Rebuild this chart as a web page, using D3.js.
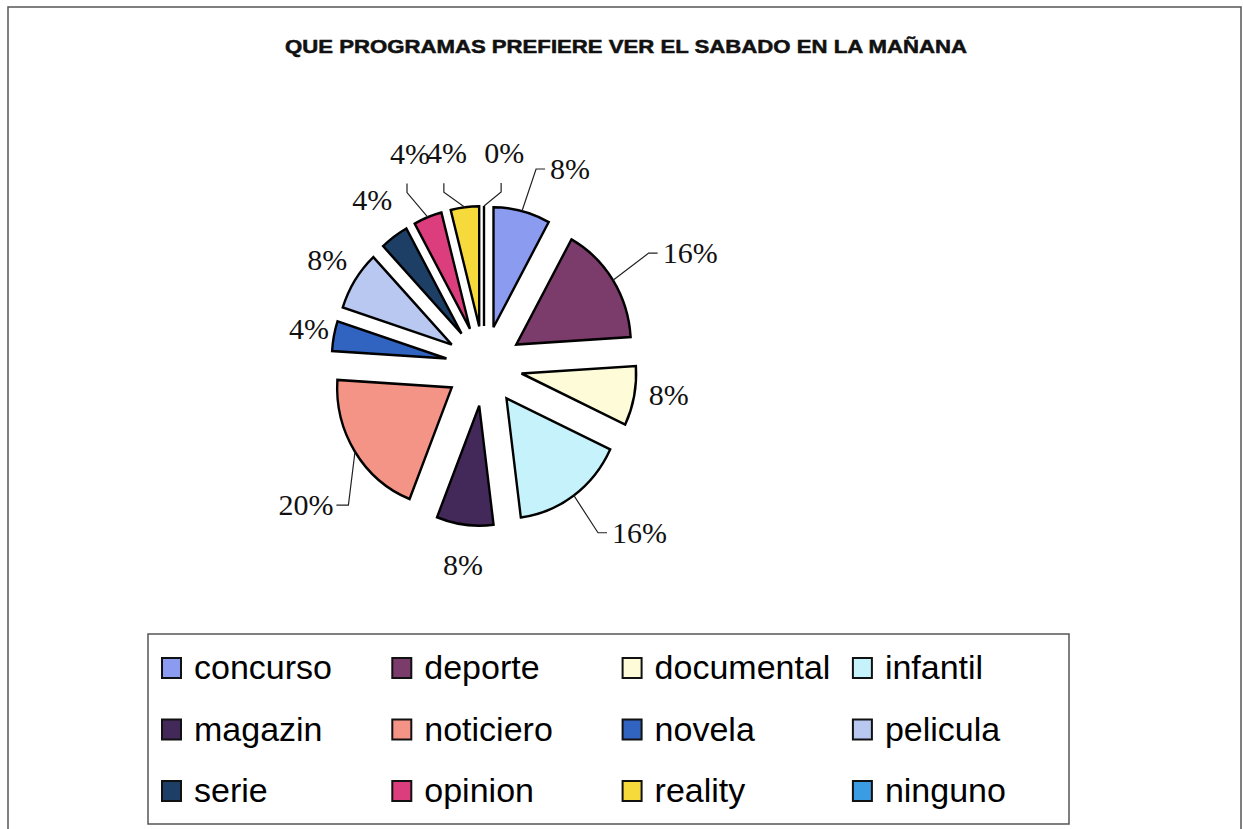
<!DOCTYPE html>
<html>
<head>
<meta charset="utf-8">
<script src="https://cdn.jsdelivr.net/npm/d3@7"></script>
<style>
  html, body { margin: 0; padding: 0; background: #fff; }
  svg { display: block; }
</style>
</head>
<body>
<svg id="chart" width="1243" height="829"></svg>
<script>
// ---- data ----
const title = "QUE PROGRAMAS PREFIERE VER EL SABADO EN LA MAÑANA";
const categories = ["concurso", "deporte", "documental", "infantil", "magazin", "noticiero",
                    "novela", "pelicula", "serie", "opinion", "reality", "ninguno"];
const values = [8, 16, 8, 16, 8, 20, 4, 8, 4, 4, 4, 0];
const colors = ["#8b9cf0", "#7b3b6b", "#fdfbd8", "#c6f2fb", "#43295a", "#f49486",
                "#3163c0", "#b8c8f0", "#1d3f66", "#dc3d7c", "#f6d93a", "#3b9be3"];

// ---- label layout (Excel-moved labels) ----
const labelShift = [9.2, 3.7, -1.8, -7, -1.2, -5.6, 1.2, 1.6, 2, 2.4, -2.7, 5.4]; // degrees from slice middle
const labelDist  = [215, 235, 187, 228, 200, 226, 179, 189, 200, 225, 216, 214];
const leaderSide = ["right", "right", null, "right", null, "left", null, null, null, "top", "top", "top"];

const W = 1243, H = 829;
const svg = d3.select("#chart");

// outer frame
svg.append("rect").attr("x", 8).attr("y", 7).attr("width", 1233).attr("height", 860)
  .attr("fill", "none").attr("stroke", "#555").attr("stroke-width", 1.5);

// title
svg.append("text")
  .attr("x", 285).attr("y", 53)
  .attr("textLength", 682).attr("lengthAdjust", "spacingAndGlyphs")
  .attr("font-family", "Arial, 'Liberation Sans', sans-serif")
  .attr("font-weight", "bold").attr("font-size", 18)
  .attr("fill", "#111").attr("stroke", "#111").attr("stroke-width", 0.5)
  .text(title);

// pie
const cx = 484, cy = 366, R = 120, explode = 40, sx = 0.955;
const pie = d3.pie().sort(null).value(d => d.v);
const arcs = pie(categories.map((c, i) => ({ c, v: values[i], i })));
const arc = d3.arc().innerRadius(0).outerRadius(R);

const g = svg.append("g").attr("transform", `translate(${cx},${cy})`);
const sliceG = g.append("g").attr("transform", `scale(${sx},1)`);
const dir = a => [Math.sin(a), -Math.cos(a)];

sliceG.selectAll("path.slice").data(arcs).enter().append("path")
  .attr("class", "slice")
  .attr("transform", d => {
    const m = (d.startAngle + d.endAngle) / 2, u = dir(m);
    return `translate(${u[0] * explode},${u[1] * explode})`;
  })
  .attr("d", arc)
  .attr("fill", d => colors[d.data.i])
  .attr("stroke", "#000").attr("stroke-width", 2.5).attr("stroke-linejoin", "miter");

// labels
const labelG = g.append("g");
arcs.forEach((d, i) => {
  const m = (d.startAngle + d.endAngle) / 2;
  const a = m + labelShift[i] * Math.PI / 180;
  const u = dir(a);
  const lx = u[0] * labelDist[i], ly = u[1] * labelDist[i];
  const t = labelG.append("text")
    .attr("x", lx).attr("y", ly + 10)
    .attr("text-anchor", "middle")
    .attr("font-family", "'Liberation Serif', 'Times New Roman', serif")
    .attr("font-size", 30).attr("fill", "#111")
    .text(values[i] + "%");
  const w = t.node().getComputedTextLength();
  const side = leaderSide[i];
  if (side) {
    const um = dir(m);
    const s = [um[0] * (explode + R) * sx, um[1] * (explode + R)];
    let pts;
    if (side === "right") {
      const left = lx - w / 2;
      pts = [s, [left - 14, ly], [left - 5, ly]];
    } else if (side === "left") {
      const right = lx + w / 2;
      pts = [s, [right + 15, ly], [right + 3, ly]];
    } else {
      pts = [s, [lx - 3, ly + 39], [lx - 3, ly + 30]];
    }
    labelG.append("path")
      .attr("d", d3.line()(pts))
      .attr("fill", "none").attr("stroke", "#222").attr("stroke-width", 1.2);
  }
});

// legend
const legX = 148, legY = 634, legW = 921, legH = 190;
svg.append("rect").attr("x", legX).attr("y", legY).attr("width", legW).attr("height", legH)
  .attr("fill", "#fff").attr("stroke", "#555").attr("stroke-width", 1.5);

const colStep = 230.3, rowStep = 61.5;
const leg = svg.append("g");
categories.forEach((c, i) => {
  const col = i % 4, row = Math.floor(i / 4);
  const x = legX + 14 + col * colStep;
  const yc = legY + 34 + row * rowStep;
  leg.append("rect").attr("x", x).attr("y", yc - 10).attr("width", 19).attr("height", 20)
    .attr("fill", colors[i]).attr("stroke", "#111").attr("stroke-width", 2);
  leg.append("text").attr("x", x + 32).attr("y", yc + 11)
    .attr("font-family", "Arial, 'Liberation Sans', sans-serif")
    .attr("font-size", 34).attr("fill", "#000")
    .text(c);
});
</script>
</body>
</html>
